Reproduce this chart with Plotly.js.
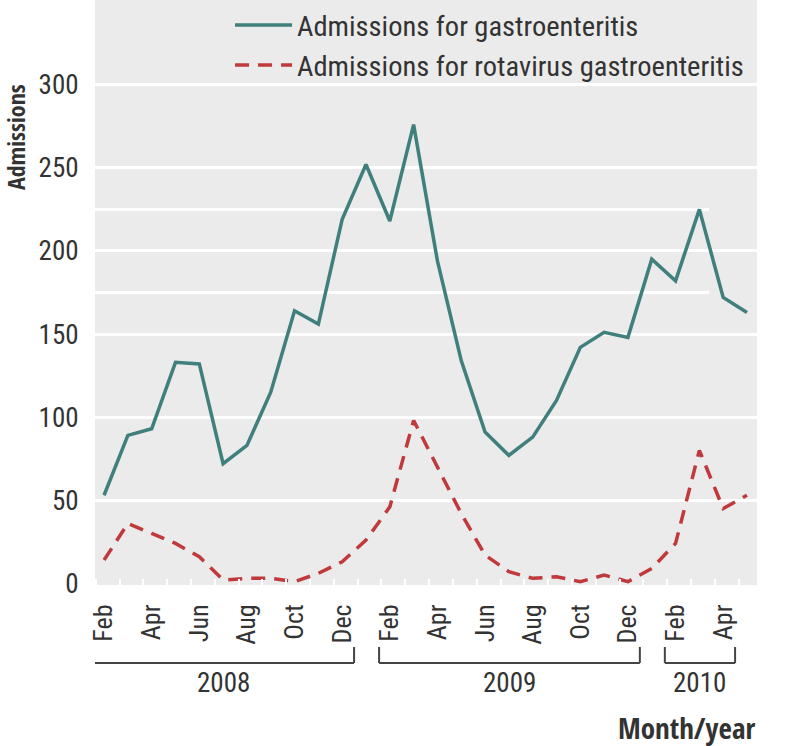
<!DOCTYPE html>
<html>
<head>
<meta charset="utf-8">
<script src="https://cdn.plot.ly/plotly-3.0.1.min.js"></script>
<style>html,body{margin:0;padding:0;background:#fff;}#chart{width:787px;height:746px;}</style>
</head>
<body>
<div id="chart"></div>
<script>
const monthNames = ['Feb','Mar','Apr','May','Jun','Jul','Aug','Sep','Oct','Nov','Dec','Jan',
  'Feb','Mar','Apr','May','Jun','Jul','Aug','Sep','Oct','Nov','Dec','Jan',
  'Feb','Mar','Apr','May'];
const monthYears = [2008,2008,2008,2008,2008,2008,2008,2008,2008,2008,2008,2009,
  2009,2009,2009,2009,2009,2009,2009,2009,2009,2009,2009,2010,
  2010,2010,2010,2010];
const gastro = [53, 89, 93, 133, 132, 72, 83, 115, 164, 156, 219, 252,
  218, 276, 194, 134, 91, 77, 88, 110, 142, 151, 148, 195,
  182, 225, 172, 163];
const rota = [14, 36, 30, 24, 16, 2, 3, 3, 1, 6, 13, 26,
  46, 98, 70, 42, 17, 7, 3, 4, 1, 5, 1, 9,
  24, 80, 45, 53];
const yearLabels = ['2008','2009','2010'];
const labelledMonths = ['Feb','Apr','Jun','Aug','Oct','Dec'];
const yTicks = [0, 50, 100, 150, 200, 250, 300];
const shortGrid = [175, 225];

const idx = monthNames.map((_, i) => i);
const tickvals = idx.filter(i => labelledMonths.includes(monthNames[i]));
const ticktext = tickvals.map(i => monthNames[i]);

const COND = '"Roboto Condensed", "DejaVu Sans Condensed", sans-serif';
const BOLD = '"Open Sans Condensed", "Roboto Condensed", sans-serif';
const TXT = '#333333';

const shapes = [];
const annotations = [];
yearLabels.forEach(y => {
  const its = tickvals.filter(i => String(monthYears[i]) === y);
  const a = Math.min(...its) - 0.45, b = Math.max(...its) + 0.5;
  const lineStyle = {color: '#444', width: 2};
  shapes.push({type:'line', xref:'x', yref:'paper', x0:a, x1:b, y0:-0.1333, y1:-0.1333, line:lineStyle});
  shapes.push({type:'line', xref:'x', yref:'paper', x0:a, x1:a, y0:-0.1333, y1:-0.106, line:lineStyle});
  shapes.push({type:'line', xref:'x', yref:'paper', x0:b, x1:b, y0:-0.1333, y1:-0.106, line:lineStyle});
  annotations.push({text:y, xref:'x', yref:'paper', x:(a+b)/2, y:-0.1675, yanchor:'middle', showarrow:false,
    font:{family:COND, size:27, color:TXT}});
});
shortGrid.forEach(v => {
  shapes.push({type:'line', xref:'paper', yref:'y', x0:0, x1:0.9275, y0:v, y1:v, layer:'below',
    line:{color:'#ffffff', width:3}});
});
annotations.push({text:'<b>Admissions</b>', xref:'paper', yref:'paper', x:-0.119, y:0.766, textangle:-90,
  showarrow:false, xanchor:'center', yanchor:'middle', font:{family:BOLD, size:24, color:TXT}});
annotations.push({text:'<b>Month/year</b>', xref:'paper', yref:'paper', x:1, y:-0.243, xanchor:'right', yanchor:'middle',
  showarrow:false, font:{family:BOLD, size:29, color:TXT}});

const data = [
  {x: idx, y: gastro, type:'scatter', mode:'lines', name:'Admissions for gastroenteritis',
   line:{color:'#3f7f7c', width:3.5}},
  {x: idx, y: rota, type:'scatter', mode:'lines', name:'Admissions for rotavirus gastroenteritis',
   line:{color:'#c0393b', width:3.5, dash:'14px,9px'}}
];

const layout = {
  width: 787, height: 746,
  margin: {l:95, r:30, t:0, b:161},
  paper_bgcolor:'#ffffff', plot_bgcolor:'#ebebeb',
  showlegend: true,
  legend: {x:0.204, y:1, xanchor:'left', yanchor:'top', bgcolor:'rgba(0,0,0,0)', borderwidth:0,
    font:{family:COND, size:28.5, color:TXT}, itemwidth:57, tracegroupgap:0},
  xaxis: {range:[-0.38, 27.42], tickmode:'array', tickvals:tickvals, ticktext:ticktext, tickangle:-90,
    ticks:'outside', ticklen:8, tickcolor:'rgba(0,0,0,0)', showgrid:false, zeroline:false, showline:false,
    tickfont:{family:COND, size:26, color:TXT},
    minor:{tickmode:'linear', tick0:0.65, dtick:1, ticks:'inside', ticklen:6, tickwidth:2, tickcolor:'#ffffff', showgrid:false}},
  yaxis: {range:[-1, 351], tickmode:'array', tickvals:yTicks, ticks:'outside', ticklen:10, tickcolor:'rgba(0,0,0,0)',
    showgrid:true, gridcolor:'#ffffff', gridwidth:3, zeroline:true, zerolinecolor:'#ebebeb', showline:false,
    tickfont:{family:COND, size:27, color:TXT}},
  shapes: shapes,
  annotations: annotations
};
Plotly.newPlot('chart', data, layout, {displayModeBar:false, staticPlot:true});
</script>
</body>
</html>
